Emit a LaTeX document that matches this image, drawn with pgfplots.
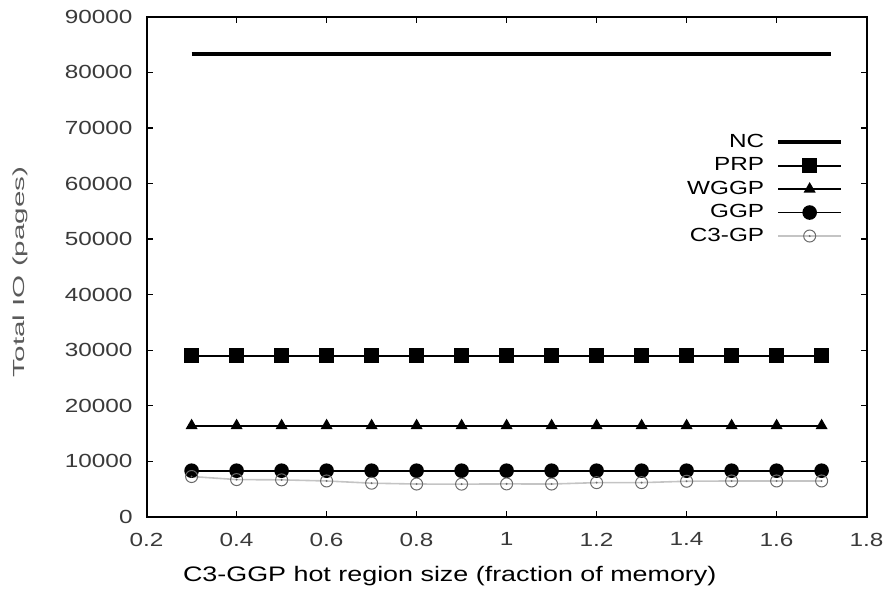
\documentclass[border=0pt]{standalone}
\usepackage{fontspec}
\setmainfont{Liberation Sans}[FakeStretch=1.28]
\newfontfamily\ylabfont{Liberation Sans}[FakeStretch=1.85]
\usepackage{pgfplots}
\pgfplotsset{compat=1.18}
\definecolor{ticktxt}{HTML}{3A3A3A}
\definecolor{ylab}{HTML}{5A5A5A}
\definecolor{c3line}{HTML}{C4C4C4}
\definecolor{c3mark}{HTML}{6A6A6A}
\pgfdeclareplotmark{odot}{%
  \pgfpathcircle{\pgfpointorigin}{\pgfplotmarksize}\pgfusepathqstroke
  \pgfpathcircle{\pgfpointorigin}{0.18\pgfplotmarksize}\pgfusepathqfill}
\begin{document}
\begin{tikzpicture}
\begin{axis}[
  scale only axis, width=360pt, height=250pt,
  xmin=0.2, xmax=1.8, ymin=0, ymax=90000,
  xtick={0.2,0.4,...,1.8},
  xticklabels={0.2,0.4,0.6,0.8,1,1.2,1.4,1.6,1.8},
  ytick={0,10000,...,90000},
  scaled y ticks=false,
  yticklabel style={/pgf/number format/.cd, fixed, set thousands separator={}, /tikz/.cd, xshift=-3.5pt},
  xticklabel style={yshift=-4.5pt},
  /pgf/number format/assume math mode=true,
  tick label style={font=\fontsize{9.5}{11}\selectfont, text=ticktxt},
  axis line style={line width=0.9pt},
  tick style={line width=0.6pt, black},
  tick align=inside, major tick length=3pt,
  xlabel={C3-GGP hot region size (fraction of memory)},
  ylabel={Total IO (pages)},
  xlabel style={font=\fontsize{10.5}{12}\selectfont, at={(axis description cs:0.421,-0.085)}, anchor=north},
  ylabel style={font=\ylabfont\fontsize{8}{9}\selectfont, text=ylab, at={(axis description cs:-0.176,0.49)}, anchor=center},
  legend style={draw=none, fill=none, at={(rel axis cs:0.968,0.772)}, anchor=north east,
    font=\fontsize{9.5}{11}\selectfont, row sep=0.6pt, column sep=4.5pt, inner sep=0pt,
    nodes={inner sep=1.5pt}},
  legend cell align=right,
  legend plot pos=right,
  legend image code/.code={\draw[mark repeat=2,mark phase=2] plot coordinates {(0pt,0pt) (15.75pt,0pt) (31.5pt,0pt)};},
]
\addplot[black, line width=2pt, mark=none] coordinates {(0.3,83300) (1.72,83300)};
\addlegendentry{NC}
\addplot[black, line width=0.9pt, mark=square*, mark size=3.4pt] coordinates {
(0.3,29000)(0.4,29000)(0.5,29000)(0.6,29000)(0.7,29000)(0.8,29000)(0.9,29000)(1.0,29000)
(1.1,29000)(1.2,29000)(1.3,29000)(1.4,29000)(1.5,29000)(1.6,29000)(1.7,29000)};
\addlegendentry{PRP}
\addplot[black, line width=0.9pt, mark=triangle*, mark size=2.6pt] coordinates {
(0.3,16400)(0.4,16400)(0.5,16400)(0.6,16400)(0.7,16400)(0.8,16400)(0.9,16400)(1.0,16400)
(1.1,16400)(1.2,16400)(1.3,16400)(1.4,16400)(1.5,16400)(1.6,16400)(1.7,16400)};
\addlegendentry{WGGP}
\addplot[black, line width=0.9pt, mark=*, mark size=3.2pt] coordinates {
(0.3,8300)(0.4,8300)(0.5,8300)(0.6,8300)(0.7,8300)(0.8,8300)(0.9,8300)(1.0,8300)
(1.1,8300)(1.2,8300)(1.3,8300)(1.4,8300)(1.5,8300)(1.6,8300)(1.7,8300)};
\addlegendentry{GGP}
\addplot[c3line, line width=0.8pt, mark=odot, mark size=3pt,
  mark options={draw=c3mark, fill=c3mark, line width=0.5pt, solid}] coordinates {
(0.3,7250)(0.4,6700)(0.5,6650)(0.6,6450)(0.7,6050)(0.8,5900)(0.9,5880)(1.0,5920)
(1.1,5900)(1.2,6150)(1.3,6150)(1.4,6400)(1.5,6450)(1.6,6450)(1.7,6450)};
\addlegendentry{C3-GP}
\end{axis}
\pgfresetboundingbox
\path (-73.3pt,-38.5pt) rectangle (372.7pt,258.4pt);
\end{tikzpicture}
\end{document}
